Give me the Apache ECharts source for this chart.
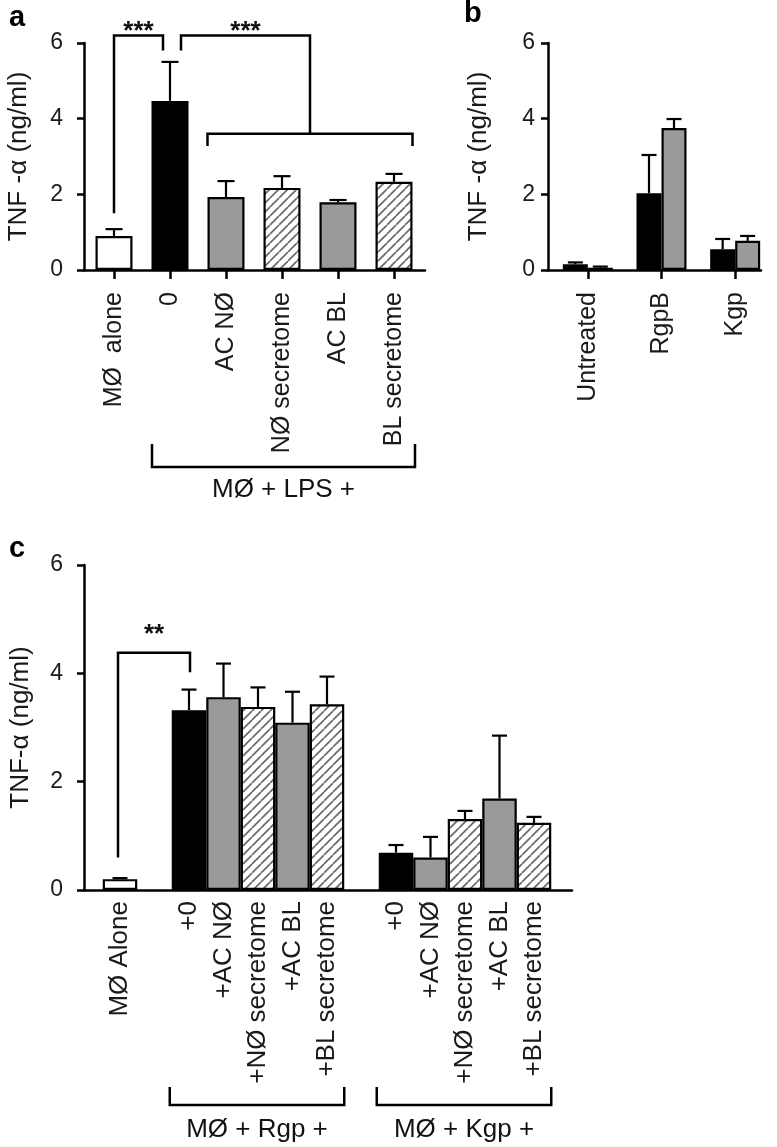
<!DOCTYPE html>
<html><head><meta charset="utf-8">
<script src="https://cdn.jsdelivr.net/npm/echarts@6/dist/echarts.min.js"></script>
<style>html,body{margin:0;padding:0;background:#fff}#c{width:777px;height:1147px}</style>
</head><body><div id="c"></div>
<script>
// ---------- data ----------
const yTicks = [0, 2, 4, 6];
// panel a
const aCategories = ['MØ  alone', '0', 'AC NØ', 'NØ secretome', 'AC BL', 'BL secretome'];
const aValues = [0.90, 4.47, 1.93, 2.17, 1.79, 2.33];
const aSem = [0.18, 1.03, 0.42, 0.31, 0.06, 0.21];
const aFills = ['white', 'black', 'gray', 'hatch', 'gray', 'hatch'];
// panel b
const bCategories = ['Untreated', 'RgpB', 'Kgp'];
const bBlack = [0.15, 2.03, 0.55];
const bBlackSem = [0.05, 1.01, 0.27];
const bGray = [0.06, 3.75, 0.77];
const bGraySem = [0.03, 0.24, 0.13];
// panel c
const cCategories = ['MØ Alone', '', '+0', '+AC NØ', '+NØ secretome', '+AC BL', '+BL secretome',
                     '', '+0', '+AC NØ', '+NØ secretome', '+AC BL', '+BL secretome'];
const cValues = [0.20, null, 3.32, 3.56, 3.38, 3.09, 3.43, null, 0.69, 0.60, 1.31, 1.69, 1.24];
const cSem = [0.02, null, 0.38, 0.62, 0.36, 0.57, 0.51, null, 0.14, 0.38, 0.15, 1.16, 0.11];
const cFills = ['white', null, 'black', 'gray', 'hatch', 'gray', 'hatch', null, 'black', 'gray', 'hatch', 'gray', 'hatch'];

// ---------- styles ----------
const FONT = '"Liberation Sans", Arial, Helvetica, sans-serif';
const GRAY = '#9a9a9a';
function makeHatch() {
  const s = 9, cv = document.createElement('canvas');
  cv.width = s; cv.height = s;
  const g = cv.getContext('2d');
  g.fillStyle = '#fff'; g.fillRect(0, 0, s, s);
  g.strokeStyle = '#6a6a6a'; g.lineWidth = 1.7;
  g.beginPath();
  for (const k of [-s, 0, s]) { g.moveTo(k, s); g.lineTo(k + s, 0); }
  g.stroke();
  return cv;
}
const hatch = { image: makeHatch(), repeat: 'repeat' };
function fillOf(f) {
  return f === 'white' ? '#ffffff' : f === 'black' ? '#000000' : f === 'gray' ? GRAY : hatch;
}

const chart = echarts.init(document.getElementById('c'), null, { renderer: 'canvas' });

function frameX(gi) {
  return { gridIndex: gi, type: 'value', min: 0, max: 1,
    axisLine: { show: true, lineStyle: { color: '#000', width: 2.5 } },
    axisTick: { show: false }, axisLabel: { show: false }, splitLine: { show: false } };
}
function frameY(gi, name, gap, margin) {
  return { gridIndex: gi, type: 'value', min: 0, max: 6, interval: 2,
    axisLine: { show: true, lineStyle: { color: '#000', width: 2.5 } },
    axisTick: { show: true, length: 7, lineStyle: { color: '#000', width: 2.5 } },
    axisLabel: { fontSize: 23, color: '#1a1a1a', fontFamily: FONT, margin: margin,
      formatter: v => yTicks.includes(v) ? String(v) : '' },
    splitLine: { show: false },
    name: name, nameLocation: 'middle', nameGap: gap,
    nameTextStyle: { fontSize: 26, color: '#1a1a1a', fontFamily: FONT } };
}
function barX(gi, cats, ticks, margin, size) {
  return { gridIndex: gi, type: 'category', data: cats,
    axisLine: { show: false },
    axisTick: { show: ticks, alignWithLabel: true, length: 9, lineStyle: { color: '#000', width: 2.5 } },
    axisLabel: { rotate: 90, fontSize: size, color: '#1a1a1a', fontFamily: FONT, margin: margin, interval: 0 } };
}
function barY(gi) {
  return { gridIndex: gi, type: 'value', min: 0, max: 6, interval: 2, show: false };
}
function errSeries(xi, data, offset, capHalf) {
  return { type: 'custom', xAxisIndex: xi, yAxisIndex: xi, z: 5,
    data: data, encode: { x: 0, y: 1 },
    renderItem: function (params, api) {
      const i = api.value(0), v = api.value(1), e = api.value(2);
      if (v == null || isNaN(v)) return null;
      const p0 = api.coord([i, v]), p1 = api.coord([i, v + e]);
      const x = p0[0] + offset;
      return { type: 'group', children: [
        { type: 'line', shape: { x1: x, y1: p0[1], x2: x, y2: p1[1] }, style: { stroke: '#000', lineWidth: 2.2 } },
        { type: 'line', shape: { x1: x - capHalf, y1: p1[1], x2: x + capHalf, y2: p1[1] }, style: { stroke: '#000', lineWidth: 2.2 } }
      ] };
    } };
}
const borderStyle = { borderColor: '#000', borderWidth: 2.2 };

const option = {
  animation: false,
  backgroundColor: '#fff',
  grid: [
    { left: 84, top: 43, width: 341, height: 227 },   // 0 frame a
    { left: 86, top: 43, width: 336, height: 227 },   // 1 bars a
    { left: 548, top: 43, width: 213, height: 227 },  // 2 frame b
    { left: 551, top: 43, width: 221, height: 227 },  // 3 bars b
    { left: 84, top: 565, width: 488, height: 325 },  // 4 frame c
    { left: 102.75, top: 565, width: 448.5, height: 325 } // 5 bars c
  ],
  xAxis: [
    frameX(0), barX(1, aCategories, true, 22, 25),
    frameX(2), barX(3, bCategories, true, 22, 25),
    frameX(4), barX(5, cCategories, false, 11, 26)
  ],
  yAxis: [
    frameY(0, 'TNF -α (ng/ml)', 52, 21), barY(1),
    frameY(2, 'TNF -α (ng/ml)', 56, 13), barY(3),
    frameY(4, 'TNF-α (ng/ml)', 50, 21), barY(5)
  ],
  series: [
    { type: 'bar', xAxisIndex: 1, yAxisIndex: 1, barWidth: 37,
      data: aValues.map((v, i) => ({ value: v, itemStyle: Object.assign({ color: fillOf(aFills[i]) }, borderStyle) })) },
    errSeries(1, aValues.map((v, i) => [i, v, aSem[i]]), 0, 8.5),

    { type: 'bar', xAxisIndex: 3, yAxisIndex: 3, barWidth: 25, barGap: '0%',
      itemStyle: Object.assign({ color: '#000' }, borderStyle), data: bBlack },
    { type: 'bar', xAxisIndex: 3, yAxisIndex: 3, barWidth: 25, barGap: '0%',
      itemStyle: Object.assign({ color: GRAY }, borderStyle), data: bGray },
    errSeries(3, bBlack.map((v, i) => [i, v, bBlackSem[i]]), -12.5, 7.5),
    errSeries(3, bGray.map((v, i) => [i, v, bGraySem[i]]), 12.5, 7.5),

    { type: 'bar', xAxisIndex: 5, yAxisIndex: 5, barWidth: '100%',
      data: cValues.map((v, i) => v == null ? '-' : ({ value: v, itemStyle: Object.assign({ color: fillOf(cFills[i]) }, borderStyle) })) },
    errSeries(5, cValues.map((v, i) => [i, v == null ? NaN : v, cSem[i] == null ? NaN : cSem[i]]), 0, 7.5)
  ]
};
chart.setOption(option);

// ---------- annotations (positioned through the chart's own scales) ----------
function P(ax, cat, val) { return chart.convertToPixel({ xAxisIndex: ax, yAxisIndex: ax }, [cat, val]); }
const lineStyle = { stroke: '#000', lineWidth: 2.5, fill: null };
function poly(points) { return { type: 'polyline', shape: { points: points }, style: lineStyle, z: 10 }; }
function txt(x, y, t, size, bold) {
  return { type: 'text', x: x, y: y, z: 10,
    style: { text: t, fontSize: size, fontWeight: bold ? 'bold' : 'normal', fontFamily: FONT,
      fill: '#111', align: 'center', verticalAlign: 'middle' } };
}
const G = [];
// panel a significance
{
  const x0 = P(1, 0, 0)[0], x1 = P(1, 1, 0)[0], x3 = P(1, 3, 0)[0], x4 = P(1, 4, 0)[0];
  const x2 = P(1, 2, 0)[0], x5 = P(1, 5, 0)[0];
  const y = v => P(1, 0, v)[1];
  const xl = x1 - 7, xr = x1 + 11, xm = (x3 + x4) / 2;
  G.push(poly([[x0, y(1.5)], [x0, y(6.2)], [xl, y(6.2)], [xl, y(5.8)]]));
  G.push(poly([[xr, y(5.8)], [xr, y(6.2)], [xm, y(6.2)], [xm, y(3.6)]]));
  G.push(poly([[x2 - 18.5, y(3.28)], [x2 - 18.5, y(3.6)], [x5 + 18.5, y(3.6)], [x5 + 18.5, y(3.28)]]));
  G.push(txt((x0 + xl) / 2, y(6.25) - 2, '***', 26, true));
  G.push(txt((xr + xm) / 2, y(6.25) - 2, '***', 26, true));
  // group bracket under labels
  const base = y(0);
  const bl = x1 - 18, br = x5 + 21;
  G.push(poly([[bl, base + 174], [bl, base + 197], [br, base + 197], [br, base + 174]]));
  G.push(txt((bl + br) / 2, base + 220, 'MØ + LPS +', 26, false));
}
// panel c significance and group brackets
{
  const y = v => P(5, 0, v)[1];
  const x0 = P(5, 0, 0)[0] - 2, x2 = P(5, 2, 0)[0] + 1;
  G.push(poly([[x0, y(0.6)], [x0, y(4.38)], [x2, y(4.38)], [x2, y(4.02)]]));
  G.push(txt((x0 + x2) / 2, y(4.72), '**', 26, true));
  const base = y(0);
  const half = 17.25;
  const groups = [[2, 6, 'MØ + Rgp +'], [8, 12, 'MØ + Kgp +']];
  for (const [a, b, label] of groups) {
    const l = P(5, a, 0)[0] - half - 2, r = P(5, b, 0)[0] + half;
    G.push(poly([[l, base + 197], [l, base + 215], [r, base + 215], [r, base + 197]]));
    G.push(txt((l + r) / 2, base + 240, label, 26, false));
  }
}
// panel letters
G.push({ type: 'text', x: 9, y: 3, style: { text: 'a', fontSize: 29, fontWeight: 'bold', fontFamily: FONT, fill: '#000' } });
G.push({ type: 'text', x: 464, y: -1, style: { text: 'b', fontSize: 29, fontWeight: 'bold', fontFamily: FONT, fill: '#000' } });
G.push({ type: 'text', x: 9, y: 534, style: { text: 'c', fontSize: 29, fontWeight: 'bold', fontFamily: FONT, fill: '#000' } });
chart.setOption({ graphic: G });
</script>
</body></html>
